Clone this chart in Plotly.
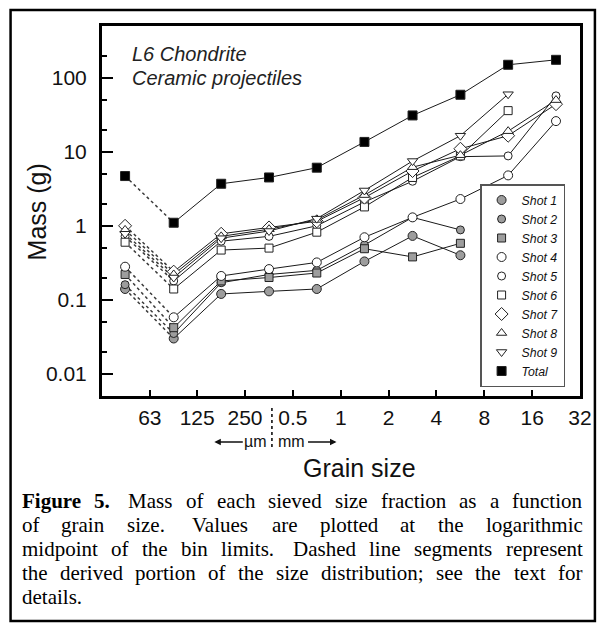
import plotly.graph_objects as go

# bin log-midpoints, mm
grain_size_mm = [0.044, 0.089, 0.177, 0.354, 0.707, 1.41, 2.83, 5.66, 11.3, 22.6]

shot_1 = [0.14, 0.030, 0.12, 0.13, 0.14, 0.33, 0.73, 0.40]
shot_2 = [0.16, 0.035, 0.17, 0.22, 0.25, 0.55, 1.3, 0.88]
shot_3 = [0.22, 0.042, 0.18, 0.20, 0.23, 0.49, 0.38, 0.58]
shot_4 = [0.28, 0.058, 0.21, 0.26, 0.32, 0.70, 1.3, 2.3, 4.8, 26]
shot_5 = [0.72, 0.18, 0.62, 0.72, 1.0, 2.1, 4.0, 8.6, 8.8, 57]
shot_6 = [0.60, 0.14, 0.47, 0.50, 0.82, 1.8, 4.5, 8.8, 36]
shot_7 = [1.0, 0.24, 0.78, 0.95, 1.15, 2.4, 5.5, 11, 16.5, 44]
shot_8 = [0.88, 0.22, 0.72, 0.90, 1.2, 2.6, 6.2, 9.0, 19, 50]
shot_9 = [0.78, 0.20, 0.68, 0.85, 1.25, 3.0, 7.5, 16.5, 60]
total = [4.7, 1.1, 3.7, 4.5, 6.1, 13.6, 31, 59, 150, 175]

x_tickvals = [0.063, 0.125, 0.25, 0.5, 1, 2, 4, 8, 16, 32]
x_ticktext = ["63", "125", "250", "0.5", "1", "2", "4", "8", "16", "32"]
y_tickvals = [0.01, 0.1, 1, 10, 100]
y_ticktext = ["0.01", "0.1", "1", "10", "100"]

caption_lines = [
    ["**Figure", "**5.", "", "Mass", "of", "each", "sieved", "size", "fraction", "as", "a", "function"],
    ["of", "grain", "size.", "", "Values", "are", "plotted", "at", "the", "logarithmic"],
    ["midpoint", "of", "the", "bin", "limits.", "", "Dashed", "line", "segments", "represent"],
    ["the", "derived", "portion", "of", "the", "size", "distribution;", "see", "the", "text", "for"],
    ["details."],
]

GRAY = "#9d9d9d"
SANS = "Liberation Sans, Arial, sans-serif"
SERIF = "Liberation Serif, Times New Roman, serif"

# name, values, symbol, fill, size
series = [
    ("Shot 1", shot_1, "circle", GRAY, 9),
    ("Shot 2", shot_2, "circle", GRAY, 8),
    ("Shot 3", shot_3, "square", GRAY, 8),
    ("Shot 4", shot_4, "circle", "white", 9),
    ("Shot 5", shot_5, "circle", "white", 8),
    ("Shot 6", shot_6, "square", "white", 8),
    ("Shot 7", shot_7, "diamond", "white", 10),
    ("Shot 8", shot_8, "triangle-up", "white", 9),
    ("Shot 9", shot_9, "triangle-down", "white", 9),
    ("Total", total, "square", "black", 9),
]

# plot area in pixels
L, R, T, B = 102, 583, 26, 396
W, H = 604, 624


def px(x):
    return (x - L) / (R - L)


def py(y):
    return (B - y) / (B - T)


fig = go.Figure()

# lines first so markers sit on top
for name, vals, sym, fill, size in series:
    xs = grain_size_mm[: len(vals)]
    fig.add_trace(go.Scatter(
        x=xs[:2], y=vals[:2], mode="lines", showlegend=False, hoverinfo="skip",
        line=dict(color="#3a3a3a", width=1.5, dash="dot"),
    ))
    fig.add_trace(go.Scatter(
        x=xs[1:], y=vals[1:], mode="lines", showlegend=False, hoverinfo="skip",
        line=dict(color="#1a1a1a", width=1),
    ))

for name, vals, sym, fill, size in series:
    fig.add_trace(go.Scatter(
        x=grain_size_mm[: len(vals)], y=vals, mode="markers", name=name,
        marker=dict(symbol=sym, size=size, color=fill,
                    line=dict(color="#222222", width=1)),
    ))

fig.update_xaxes(
    type="log", range=[-1.5017, 1.5051],
    tickvals=x_tickvals, ticktext=x_ticktext,
    ticks="inside", ticklen=6, tickwidth=2, tickcolor="black",
    showline=True, linewidth=3, linecolor="black", mirror=True,
    showgrid=False, zeroline=False, ticklabelstandoff=1,
    tickfont=dict(family=SANS, size=21, color="#111111"),
)
fig.update_yaxes(
    type="log", range=[-2.30, 2.70],
    tickvals=y_tickvals, ticktext=y_ticktext,
    ticks="inside", ticklen=11, tickwidth=2, tickcolor="black",
    minor=dict(ticks="inside", ticklen=5, tickwidth=1.5, tickcolor="black", showgrid=False),
    showline=True, linewidth=3, linecolor="black", mirror=True,
    showgrid=False, zeroline=False, ticklabelstandoff=8,
    tickfont=dict(family=SANS, size=21, color="#111111"),
)

annotations = [
    dict(x=px(130), y=py(54), text="<i>L6 Chondrite</i>", xanchor="left"),
    dict(x=px(130), y=py(78), text="<i>Ceramic projectiles</i>", xanchor="left"),
]
annotations = [dict(a, xref="paper", yref="paper", yanchor="middle", showarrow=False,
                    font=dict(family=SANS, size=20, color="#222222")) for a in annotations]

annotations += [
    dict(x=px(37), y=py(212), text="Mass (g)", textangle=-90, xanchor="center",
         font=dict(family=SANS, size=25, color="#111111")),
    dict(x=px(361), y=py(468), text="Grain size", xanchor="center",
         font=dict(family=SANS, size=25, color="#111111")),
    dict(x=px(270), y=py(441), text="\u00b5m", xanchor="right",
         font=dict(family=SANS, size=16, color="#111111")),
    dict(x=px(277), y=py(441), text="mm", xanchor="left",
         font=dict(family=SANS, size=16, color="#111111")),
]
for a in annotations[-4:]:
    a.update(xref="paper", yref="paper", yanchor="middle", showarrow=False)

# arrows either side of the µm | mm labels
for head_x, tail_dx in [(215, 30), (338, -30)]:
    annotations.append(dict(
        x=px(head_x), y=py(442), xref="paper", yref="paper", text="",
        showarrow=True, ax=tail_dx, ay=0, arrowhead=2, arrowsize=1,
        arrowwidth=1.3, arrowcolor="#111111",
    ))

# justified caption, Times metrics (per 1000 em)
times = {" ": 250, ".": 250, ",": 250, ";": 278, "a": 444, "b": 500, "c": 444, "d": 500,
         "e": 444, "f": 333, "g": 500, "h": 500, "i": 278, "j": 278, "k": 500, "l": 278,
         "m": 778, "n": 500, "o": 500, "p": 500, "q": 500, "r": 333, "s": 389, "t": 278,
         "u": 500, "v": 500, "w": 722, "x": 500, "y": 500, "z": 444, "D": 722, "F": 556,
         "M": 889, "V": 722, "5": 500}
times_bold = {"F": 611, "i": 278, "g": 500, "u": 556, "r": 444, "e": 444, "5": 500, ".": 250}
cap_size = 21
cap_left, cap_right = 20, 584
cap_y = [501, 525, 549, 573, 597]


def word_width(w):
    if w.startswith("**"):
        return sum(times_bold.get(c, 500) for c in w[2:]) * cap_size / 1000
    return sum(times.get(c, 500) for c in w) * cap_size / 1000


for i, words in enumerate(caption_lines):
    real = [w for w in words if w]
    n_extra = len(words) - len(real)
    widths = [word_width(w) for w in real]
    space = times[" "] * cap_size / 1000
    if len(real) > 1 and i < len(caption_lines) - 1:
        gap = (cap_right - cap_left - sum(widths) - n_extra * space) / (len(real) - 1)
    else:
        gap = space
    x = cap_left
    for w in words:
        if not w:
            x += space
            continue
        txt = "<b>" + w[2:] + "</b>" if w.startswith("**") else w
        annotations.append(dict(
            x=px(x), y=py(cap_y[i]), xref="paper", yref="paper", text=txt,
            xanchor="left", yanchor="middle", showarrow=False, borderpad=0,
            font=dict(family=SERIF, size=cap_size, color="black"),
        ))
        x += word_width(w) + gap

shapes = [
    # outer frame around figure and caption
    dict(type="rect", xref="paper", yref="paper", x0=px(10), x1=px(598), y0=py(621), y1=py(10),
         line=dict(color="black", width=2.5)),
    # µm | mm divider
    dict(type="line", xref="paper", yref="paper", x0=px(273), x1=px(273), y0=py(408), y1=py(449),
         line=dict(color="black", width=1.5, dash="dot")),
]

fig.update_layout(
    width=W, height=H,
    margin=dict(l=L, r=W - R, t=T, b=H - B),
    paper_bgcolor="white", plot_bgcolor="white",
    showlegend=True,
    legend=dict(
        x=px(568), y=py(184), xanchor="right", yanchor="top",
        bgcolor="white", bordercolor="#555555", borderwidth=1.5,
        font=dict(family=SANS, size=12.3, color="#111111", style="italic"),
        itemwidth=30, tracegroupgap=0,
    ),
    annotations=annotations,
    shapes=shapes,
)

fig.write_html(
    "out.html",
    config={"displayModeBar": False},
    post_script="document.body.style.margin='0px';",
)
